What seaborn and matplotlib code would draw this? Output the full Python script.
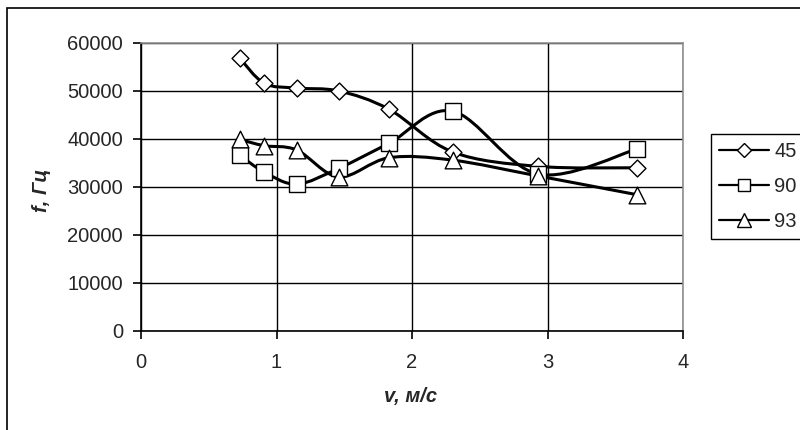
import matplotlib
matplotlib.use("Agg")
import matplotlib.pyplot as plt
from matplotlib.path import Path
from matplotlib.patches import PathPatch, Rectangle
from matplotlib.lines import Line2D
import seaborn as sns
import numpy as np

# speed, m/s (same for all three series)
v = [0.73, 0.91, 1.15, 1.46, 1.83, 2.30, 2.93, 3.66]
f_45 = [56800, 51600, 50600, 50000, 46200, 37300, 34300, 34000]
f_90 = [36600, 33100, 30600, 33900, 39100, 45800, 32700, 37900]
f_93 = [39900, 38600, 37700, 32100, 36100, 35600, 32300, 28400]
series_names = ["45", "90", "93"]
markers = ["D", "s", "^"]
marker_sizes = [8.6, 11.5, 12]


def smooth_path(xs, ys):
    # excel-like smoothed line: cubic bezier between points
    pts = np.column_stack([xs, ys]).astype(float)
    n = len(pts)
    verts = [pts[0]]
    codes = [Path.MOVETO]
    for i in range(n - 1):
        p_prev = pts[i - 1] if i > 0 else pts[i]
        p_next2 = pts[i + 2] if i + 2 < n else pts[i + 1]
        c1 = pts[i] + (pts[i + 1] - p_prev) / 6
        c2 = pts[i + 1] - (p_next2 - pts[i]) / 6
        verts += [c1, c2, pts[i + 1]]
        codes += [Path.CURVE4] * 3
    return Path(verts, codes)


sns.set_style("white")
plt.rcParams["font.family"] = ["Liberation Sans", "DejaVu Sans"]

fig = plt.figure(figsize=(8, 4.3), dpi=100)
ax = fig.add_axes([141 / 800, 1 - 331 / 430, 542 / 800, 288 / 430])

handles = []
for name, ys, mk, ms in zip(series_names, [f_45, f_90, f_93], markers, marker_sizes):
    ax.add_patch(PathPatch(smooth_path(v, ys), facecolor="none", edgecolor="black",
                           lw=2.2, zorder=3, capstyle="round"))
    sns.scatterplot(x=v, y=ys, marker=mk, s=ms ** 2, color="white",
                    edgecolor="black", linewidth=1.0, zorder=4, ax=ax)
    handles.append(Line2D([], [], color="black", lw=1.6, marker=mk, markersize=ms * 0.8,
                          markerfacecolor="white", markeredgecolor="black",
                          markeredgewidth=1.0, label=name))

ax.set_xlim(0, 4)
ax.set_ylim(0, 60000)
ax.set_xticks([0, 1, 2, 3, 4])
ax.set_yticks(np.arange(0, 60001, 10000))
ax.grid(True, color="black", lw=1.0)
ax.set_axisbelow(True)
for side in ["left", "bottom"]:
    ax.spines[side].set_color("black")
    ax.spines[side].set_linewidth(1.2)
for side in ["top", "right"]:
    ax.spines[side].set_color("#909090")
    ax.spines[side].set_linewidth(1.2)
ax.tick_params(axis="both", direction="out", length=6, width=1.2, color="black",
               labelsize=14.5, bottom=True, left=True)
ax.tick_params(axis="x", pad=10)
ax.tick_params(axis="y", pad=7)

ax.set_xlabel("v, м/с", fontsize=14.5, fontweight="bold", fontstyle="italic", va="center")
ax.set_ylabel("f, Гц", fontsize=14.5, fontweight="bold", fontstyle="italic", va="center")
ax.xaxis.set_label_coords(0.498, -0.226)
ax.yaxis.set_label_coords(-0.1845, 0.49)

leg = fig.legend(handles=handles, loc="upper left", bbox_to_anchor=(711 / 800, 1 - 134 / 430),
                 bbox_transform=fig.transFigure, borderaxespad=0, fontsize=14.5,
                 frameon=True, fancybox=False, edgecolor="black", framealpha=1,
                 handlelength=2.5, handletextpad=0.25, labelspacing=0.8, borderpad=0.4)
leg.get_frame().set_linewidth(1.0)

# outer chart frame (right and bottom edges are cut off in the original)
fig.patches.append(Rectangle((7 / 800, -0.1), 1.2, 1 - 8 / 430 + 0.1, transform=fig.transFigure,
                             fill=False, edgecolor="black", lw=1.2, clip_on=False))

fig.savefig("out.png", dpi=100)
